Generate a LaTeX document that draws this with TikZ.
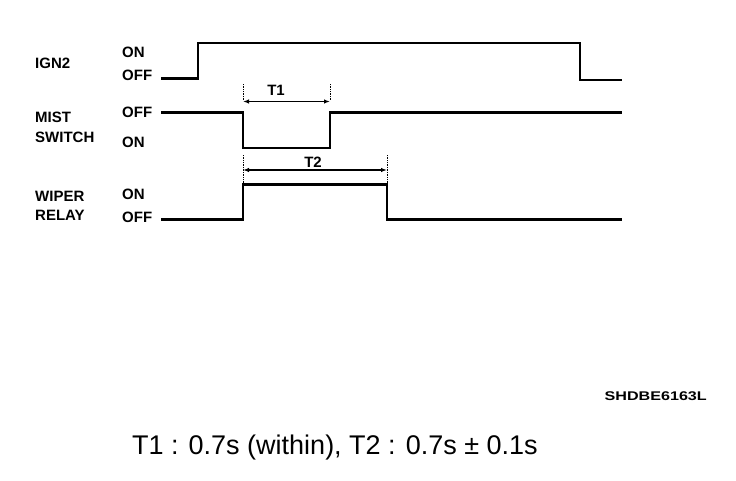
\documentclass[tikz,border=0pt]{standalone}
\usepackage{fontspec}
\setmainfont{Liberation Sans}
\usetikzlibrary{arrows.meta}
\begin{document}
\begin{tikzpicture}[x=1pt,y=-1pt,
  lbl/.style={font=\fontsize{15}{16}\selectfont\bfseries, anchor=west, inner sep=0pt},
  sig/.style={line width=2.6pt, line join=miter},
  dim/.style={line width=1.8pt, {Latex[length=6pt,width=4.5pt]}-{Latex[length=6pt,width=4.5pt]}},
  guide/.style={densely dotted, line width=0.7pt}]
\useasboundingbox (0,0) rectangle (736,480);
% left labels
\node[lbl] (ign) at (35,63) {IGN2};
\node[lbl] (mist) at (35,117) {MIST};
\node[lbl] (sw) at (35,137) {SWITCH};
\node[lbl] (wip) at (35,196) {WIPER};
\node[lbl] (rel) at (35,215) {RELAY};
% state labels
\node[lbl] (ignon) at (122,52) {ON};
\node[lbl] (ignoff) at (122,75) {OFF};
\node[lbl] (mistoff) at (122,112) {OFF};
\node[lbl] (miston) at (122,142) {ON};
\node[lbl] (wipon) at (122,194) {ON};
\node[lbl] (wipoff) at (122,217) {OFF};
% signals
\draw[sig] (161,78.5) -- (198,78.5) -- (198,43) -- (580,43) -- (580,80) -- (622,80);
\draw[sig] (161,112.5) -- (243,112.5) -- (243,148) -- (330,148) -- (330,112.5) -- (622,112.5);
\draw[sig] (161,219.5) -- (243,219.5) -- (243,184.5) -- (387,184.5) -- (387,219.5) -- (622,219.5);
% guides
\draw[guide] (243,84) -- (243,101);
\draw[guide] (330,84) -- (330,101);
\draw[guide] (243,155) -- (243,184);
\draw[guide] (387,155) -- (387,184);
% dimension arrows
\coordinate (t1a) at (243,101.5);
\coordinate (t1b) at (330,101.5);
\coordinate (t2a) at (243,170);
\coordinate (t2b) at (387,170);
\draw[dim] (t1a) -- (t1b);
\draw[dim] (t2a) -- (t2b);
\node[lbl, anchor=center] (t1) at (276,90) {T1};
\node[lbl, anchor=center] (t2) at (313,162) {T2};
% footer
\node[font=\fontsize{12.6}{13}\selectfont\bfseries, anchor=east, inner sep=0pt] (code) at (707,396) {\scalebox{1.28}[1]{SHDBE6163L}};
\node[font=\fontsize{27}{28}\selectfont, anchor=west, inner sep=0pt] (note) at (132,448) {T1 : 0.7s (within), T2 : 0.7s \char"00B1\ 0.1s};
\end{tikzpicture}
\end{document}
